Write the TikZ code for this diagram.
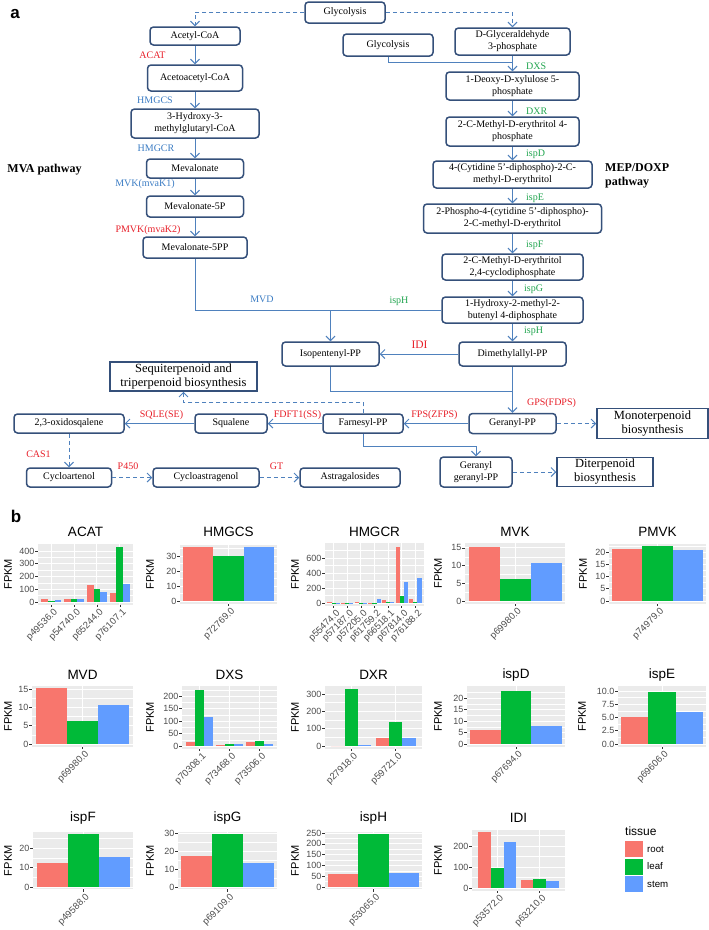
\documentclass[tikz,border=0pt]{standalone}
\usepackage{fontspec}
\setmainfont{Liberation Serif}
\newfontfamily\arialf{Liberation Sans}
\usetikzlibrary{arrows.meta}
\definecolor{boxc}{HTML}{35507A}
\definecolor{linec}{HTML}{4F81BD}
\definecolor{enzred}{HTML}{E8202A}
\definecolor{enzblue}{HTML}{3C7DC4}
\definecolor{enzgreen}{HTML}{22A650}
\definecolor{rootc}{HTML}{F8766D}
\definecolor{leafc}{HTML}{00BA38}
\definecolor{stemc}{HTML}{619CFF}
\definecolor{panelbg}{HTML}{EBEBEB}
\definecolor{axgray}{HTML}{4D4D4D}
\definecolor{tickc}{HTML}{333333}

\newcommand\mychart{%
  \pgfmathsetmacro\kU{\kF*(\kR-\kL)/(\kN-0.1)}%
  \pgfmathsetmacro\kC{(\kL+\kR)/2}%
  \pgfmathsetmacro\kB{\kZ+0.045*(\kZ-\kT)}%
  \fill[panelbg] (\kL,\kT) rectangle (\kR,\kB);
  \foreach \vv in \kMinor {\draw[gridminor] (\kL,{\kZ-\vv*\kK}) -- (\kR,{\kZ-\vv*\kK});}
  \foreach \vv/\vl [count=\j] in \kTicks {%
    \draw[gridmajor] (\kL,{\kZ-\vv*\kK}) -- (\kR,{\kZ-\vv*\kK});
    \draw[axtick] ({\kL-2.75},{\kZ-\vv*\kK}) -- (\kL,{\kZ-\vv*\kK});
    \node[ticklab, anchor=east] (\kName-y\j) at ({\kL-3.5},{\kZ-\vv*\kK}) {\vl};}
  \foreach \vg/\va/\vb/\vc [count=\i] in \kData {%
    \pgfmathsetmacro\gx{\kC+(\i-(\kN+1)/2)*\kU}
    \draw[gridmajor] (\gx,\kT) -- (\gx,\kB);
    \fill[rootc] ({\gx-0.45*\kU},\kZ) rectangle ({\gx-0.15*\kU},{\kZ-\va*\kK});
    \fill[leafc] ({\gx-0.15*\kU},\kZ) rectangle ({\gx+0.15*\kU},{\kZ-\vb*\kK});
    \fill[stemc] ({\gx+0.15*\kU},\kZ) rectangle ({\gx+0.45*\kU},{\kZ-\vc*\kK});
    \draw[axtick] (\gx,\kB) -- (\gx,{\kB+2.75});
    \node[xlab, anchor=north east] (\kName-x\i) at ({\gx+2},{\kB+3}) {\vg};}
  \node[ctitle] (\kName-title) at (\kC,\kTY) {\kTitle};
  \node[ylab] (\kName-ylab) at (\kFx,{(\kT+\kB)/2}) {FPKM};
}

\begin{document}
\begin{tikzpicture}[x=1pt,y=-1pt,
  met/.style={draw=boxc, line width=1.5pt, rounded corners=3.5pt, fill=white,
     font=\fontsize{10}{12}\selectfont, align=center, inner sep=0pt},
  bio/.style={draw=boxc, line width=1.5pt, fill=white,
     font=\fontsize{12.5}{14}\selectfont, align=center, inner sep=0pt},
  sz/.style 2 args={minimum width=#1pt, minimum height=#2pt},
  conn/.style={draw=linec, line width=1pt},
  arr/.style={conn, -{Straight Barb[length=4.5pt,width=9pt]}},
  darr/.style={arr, dash pattern=on 4pt off 3pt},
  enz/.style={font=\fontsize{10}{12}\selectfont, inner sep=0pt},
  ered/.style={enz, text=enzred},
  eblue/.style={enz, text=enzblue},
  egreen/.style={enz, text=enzgreen},
  pathlab/.style={font=\bfseries\fontsize{12}{14}\selectfont, inner sep=0pt, align=left},
  panlab/.style={font=\arialf\bfseries\fontsize{17}{17}\selectfont, inner sep=0pt},
  gridmajor/.style={draw=white, line width=0.9pt},
  gridminor/.style={draw=white, line width=0.45pt},
  axtick/.style={draw=tickc, line width=0.6pt},
  ticklab/.style={font=\arialf\fontsize{9}{10}\selectfont, text=axgray, inner sep=0pt},
  xlab/.style={font=\arialf\fontsize{9.5}{10}\selectfont, text=axgray, inner sep=0pt, rotate=45},
  ctitle/.style={font=\arialf\fontsize{13.5}{14}\selectfont, inner sep=0pt},
  ylab/.style={font=\arialf\fontsize{11}{12}\selectfont, inner sep=0pt, rotate=90},
  legt/.style={font=\arialf\fontsize{12}{13}\selectfont, inner sep=0pt, anchor=west},
  legl/.style={font=\arialf\fontsize{9.7}{11}\selectfont, inner sep=0pt, anchor=west}
]
\useasboundingbox (0,0) rectangle (709,930);
\fill[white] (0,0) rectangle (709,930);

% ---------------- panel a ----------------
\node[panlab] (la) at (15,14) {a};
\node[pathlab] (mvalab) at (44.5,170) {MVA pathway};
\node[pathlab, anchor=west] (meplab) at (605,176) {MEP/DOXP\\pathway};

\node[met, sz={80}{21}] (glyc1) at (345,12.5) {Glycolysis};
\node[met, sz={90}{18}] (acetyl) at (195,36) {Acetyl-CoA};
\node[met, sz={95}{26}] (acac) at (195,78) {Acetoacetyl-CoA};
\node[met, sz={128}{29}] (hmg) at (195,123.5) {3-Hydroxy-3-\\methylglutaryl-CoA};
\node[met, sz={97}{19}] (mev) at (195,168.5) {Mevalonate};
\node[met, sz={97}{21}] (mev5p) at (195,206.5) {Mevalonate-5P};
\node[met, sz={104}{21}] (mev5pp) at (195,247.5) {Mevalonate-5PP};

\node[met, sz={90}{22}] (glyc2) at (388,45) {Glycolysis};
\node[met, sz={115}{27}] (gap) at (512.5,41.5) {D-Glyceraldehyde\\3-phosphate};
\node[met, sz={133}{28}] (dxp) at (512.5,86) {1-Deoxy-D-xylulose 5-\\phosphate};
\node[met, sz={133}{29}] (mep) at (512.5,131.5) {2-C-Methyl-D-erythritol 4-\\phosphate};
\node[met, sz={159}{27}] (cdpme) at (512.5,174.5) {4-(Cytidine 5'-diphospho)-2-C-\\methyl-D-erythritol};
\node[met, sz={178}{29}] (cdpmep) at (512.5,218.5) {2-Phospho-4-(cytidine 5'-diphospho)-\\2-C-methyl-D-erythritol};
\node[met, sz={141}{26}] (mecpp) at (512.5,267) {2-C-Methyl-D-erythritol\\2,4-cyclodiphosphate};
\node[met, sz={141}{26}] (hmbpp) at (512.5,310) {1-Hydroxy-2-methyl-2-\\butenyl 4-diphosphate};
\node[met, sz={107}{24}] (dmapp) at (512.5,354) {Dimethylallyl-PP};
\node[met, sz={97}{24}] (ipp) at (330.5,354) {Isopentenyl-PP};
\node[met, sz={87}{20}] (gpp) at (512.5,423.5) {Geranyl-PP};
\node[met, sz={80}{19}] (fpp) at (363,423.5) {Farnesyl-PP};
\node[met, sz={72}{19}] (sq) at (231,423.5) {Squalene};
\node[met, sz={110}{19}] (oxs) at (69,423.5) {2,3-oxidosqalene};
\node[bio, sz={147}{29}] (seq) at (183.5,376.5) {Sequiterpenoid and\\triperpenoid biosynthesis};
\node[bio, sz={111}{30}] (mono) at (652.5,423.5) {Monoterpenoid\\biosynthesis};
\node[met, sz={72}{30}] (ggpp) at (476,472) {Geranyl\\geranyl-PP};
\node[bio, sz={96}{29}] (diterp) at (605,472) {Diterpenoid\\biosynthesis};
\node[met, sz={85}{19}] (cyart) at (69,477.5) {Cycloartenol};
\node[met, sz={106}{19}] (cyas) at (206,477.5) {Cycloastragenol};
\node[met, sz={100}{19}] (astr) at (350,477.5) {Astragalosides};

% connectors
\draw[darr] (glyc1.west) -| (acetyl.north);
\draw[darr] (glyc1.east) -| (gap.north);
\draw[arr] (acetyl.south) -- (acac.north);
\draw[arr] (acac.south) -- (hmg.north);
\draw[arr] (hmg.south) -- (mev.north);
\draw[arr] (mev.south) -- (mev5p.north);
\draw[arr] (mev5p.south) -- (mev5pp.north);
\coordinate (j1) at (512.5,62);
\draw[conn] (glyc2.south) |- (j1);
\draw[arr] (gap.south) -- (dxp.north);
\draw[arr] (dxp.south) -- (mep.north);
\draw[arr] (mep.south) -- (cdpme.north);
\draw[arr] (cdpme.south) -- (cdpmep.north);
\draw[arr] (cdpmep.south) -- (mecpp.north);
\draw[arr] (mecpp.south) -- (hmbpp.north);
\draw[arr] (hmbpp.south) -- (dmapp.north);
\coordinate (jm) at (330.5,310);
\draw[conn] (mev5pp.south) |- (jm);
\draw[conn] (hmbpp.west) -- (jm);
\draw[arr] (jm) -- (ipp.north);
\draw[arr] (dmapp.west) -- (ipp.east);
\draw[arr] (dmapp.south) -- (gpp.north);
\coordinate (j2) at (512.5,391);
\draw[conn] (ipp.south) |- (j2);
\draw[arr] (gpp.west) -- (fpp.east);
\draw[darr] (gpp.east) -- (mono.west);
\draw[arr] (fpp.west) -- (sq.east);
\draw[arr] (sq.west) -- (oxs.east);
\coordinate (j3) at (363,402);
\draw[darr] (fpp.north) -- (j3) -| (seq.south);
\coordinate (j4) at (363,446);
\draw[arr] (fpp.south) -- (j4) -| (ggpp.north);
\draw[darr] (ggpp.east) -- (diterp.west);
\draw[darr] (oxs.south) -- (cyart.north);
\draw[darr] (cyart.east) -- (cyas.west);
\draw[darr] (cyas.east) -- (astr.west);

% enzyme labels
\node[ered] (eACAT) at (152.5,55) {ACAT};
\node[eblue] (eHMGCS) at (155,100) {HMGCS};
\node[eblue] (eHMGCR) at (156,148) {HMGCR};
\node[eblue] (eMVK) at (145,184) {MVK(mvaK1)};
\node[ered] (ePMVK) at (148,230) {PMVK(mvaK2)};
\node[eblue] (eMVD) at (262,299) {MVD};
\node[egreen] (eispH1) at (399,301) {ispH};
\node[egreen, anchor=west] (eDXS) at (526,66) {DXS};
\node[egreen, anchor=west] (eDXR) at (526,111) {DXR};
\node[egreen, anchor=west] (eispD) at (526,154) {ispD};
\node[egreen, anchor=west] (eispE) at (526,198) {ispE};
\node[egreen, anchor=west] (eispF) at (526,245) {ispF};
\node[egreen, anchor=west] (eispG) at (524,289) {ispG};
\node[egreen, anchor=west] (eispH2) at (524,331) {ispH};
\node[ered, font=\fontsize{11.5}{13}\selectfont] (eIDI) at (419.5,345) {IDI};
\node[ered] (eGPS) at (551.5,403) {GPS(FDPS)};
\node[ered] (eFPS) at (434.5,415) {FPS(ZFPS)};
\node[ered] (eFDFT) at (297.5,415) {FDFT1(SS)};
\node[ered] (eSQLE) at (161.5,415) {SQLE(SE)};
\node[ered] (eCAS) at (38.5,454) {CAS1};
\node[ered] (eP450) at (128,466) {P450};
\node[ered] (eGT) at (276.5,466) {GT};

% ---------------- panel b ----------------
\node[panlab] (lb) at (16,516) {b};

% ACAT
\def\kName{ACAT}\def\kTitle{ACAT}\def\kL{38}\def\kR{133}\def\kT{544}\def\kZ{602}\def\kK{0.1275}
\def\kN{4}\def\kF{0.94}\def\kTY{532}\def\kFx{8}
\def\kTicks{0/0,100/100,200/200,300/300,400/400}\def\kMinor{50,150,250,350}
\def\kData{p49536.0/25/8/18,p54740.0/25/25/25,p65244.0/130/100/75,p76107.1/70/430/140}
\mychart
% HMGCS
\def\kName{HMGCS}\def\kTitle{HMGCS}\def\kL{180}\def\kR{277}\def\kT{545}\def\kZ{601}\def\kK{1.5}
\def\kN{1}\def\kF{0.93}\def\kTY{532}\def\kFx{150}
\def\kTicks{0/0,10/10,20/20,30/30}\def\kMinor{5,15,25,35}
\def\kData{p72769.0/36.2/30/36.2}
\mychart
% HMGCR
\def\kName{HMGCR}\def\kTitle{HMGCR}\def\kL{325}\def\kR{424}\def\kT{543}\def\kZ{603}\def\kK{0.075}
\def\kN{7}\def\kF{0.95}\def\kTY{532}\def\kFx{295}
\def\kTicks{0/0,200/200,400/400,600/600}\def\kMinor{100,300,500,700}
\def\kData{p55474.0/20/4/6,p57187.0/5/3/4,p57205.0/18/3/5,p61759.2/3/3/50,p66518.1/45/20/20,p67814.0/750/88/282,p76188.2/50/20/338}
\mychart
% MVK
\def\kName{MVK}\def\kTitle{MVK}\def\kL{465}\def\kR{565}\def\kT{543}\def\kZ{601}\def\kK{3.54}
\def\kN{1}\def\kF{0.93}\def\kTY{532}\def\kFx{438}
\def\kTicks{0/0,5/5,10/10,15/15}\def\kMinor{2.5,7.5,12.5}
\def\kData{p69980.0/15.3/6.3/10.7}
\mychart
% PMVK
\def\kName{PMVK}\def\kTitle{PMVK}\def\kL{609}\def\kR{706}\def\kT{544}\def\kZ{601}\def\kK{2.45}
\def\kN{1}\def\kF{0.93}\def\kTY{532}\def\kFx{583}
\def\kTicks{0/0,5/5,10/10,15/15,20/20}\def\kMinor{2.5,7.5,12.5,17.5,22.5}
\def\kData{p74979.0/21.2/22.3/20.8}
\mychart
% MVD
\def\kName{MVD}\def\kTitle{MVD}\def\kL{32}\def\kR{133}\def\kT{686}\def\kZ{744}\def\kK{3.67}
\def\kN{1}\def\kF{0.93}\def\kTY{675}\def\kFx{8}
\def\kTicks{0/0,5/5,10/10,15/15}\def\kMinor{2.5,7.5,12.5}
\def\kData{p69980.0/15.3/6.3/10.7}
\mychart
% DXS
\def\kName{DXS}\def\kTitle{DXS}\def\kL{182}\def\kR{277}\def\kT{686}\def\kZ{746}\def\kK{0.25}
\def\kN{3}\def\kF{0.91}\def\kTY{675}\def\kFx{150}
\def\kTicks{0/0,50/50,100/100,150/150,200/200}\def\kMinor{25,75,125,175,225}
\def\kData{p70308.1/18/226/116,p73468.0/5/8/10,p73506.0/18/20/10}
\mychart
% DXR
\def\kName{DXR}\def\kTitle{DXR}\def\kL{325}\def\kR{422}\def\kT{686}\def\kZ{746}\def\kK{0.1733}
\def\kN{2}\def\kF{0.87}\def\kTY{675}\def\kFx{295}
\def\kTicks{0/0,100/100,200/200,300/300}\def\kMinor{50,150,250}
\def\kData{p27918.0/0/330/5,p59721.0/48/140/48}
\mychart
% ispD
\def\kName{ispD}\def\kTitle{ispD}\def\kL{467}\def\kR{565}\def\kT{686}\def\kZ{744}\def\kK{2.3}
\def\kN{1}\def\kF{0.93}\def\kTY{675}\def\kFx{438}
\def\kTicks{0/0,5/5,10/10,15/15,20/20}\def\kMinor{2.5,7.5,12.5,17.5,22.5}
\def\kData{p67694.0/6.1/23/7.8}
\mychart
% ispE
\def\kName{ispE}\def\kTitle{ispE}\def\kL{618}\def\kR{706}\def\kT{686}\def\kZ{744}\def\kK{5.3}
\def\kN{1}\def\kF{0.93}\def\kTY{675}\def\kFx{582}
\def\kTicks{0/0.0,2.5/2.5,5/5.0,7.5/7.5,10/10.0}\def\kMinor{1.25,3.75,6.25,8.75}
\def\kData{p69606.0/5.15/9.9/6.1}
\mychart
% ispF
\def\kName{ispF}\def\kTitle{ispF}\def\kL{33}\def\kR{133}\def\kT{832}\def\kZ{887}\def\kK{1.95}
\def\kN{1}\def\kF{0.93}\def\kTY{818}\def\kFx{8}
\def\kTicks{0/0,10/10,20/20}\def\kMinor{5,15,25}
\def\kData{p49588.0/12.1/27.2/15.5}
\mychart
% ispG
\def\kName{ispG}\def\kTitle{ispG}\def\kL{178}\def\kR{277}\def\kT{832}\def\kZ{887}\def\kK{1.8}
\def\kN{1}\def\kF{0.93}\def\kTY{818}\def\kFx{150}
\def\kTicks{0/0,10/10,20/20,30/30}\def\kMinor{5,15,25}
\def\kData{p69109.0/17.2/29.4/13.5}
\mychart
% ispH
\def\kName{ispH}\def\kTitle{ispH}\def\kL{325}\def\kR{422}\def\kT{832}\def\kZ{887}\def\kK{0.216}
\def\kN{1}\def\kF{0.93}\def\kTY{818}\def\kFx{295}
\def\kTicks{0/0,50/50,100/100,150/150,200/200,250/250}\def\kMinor{25,75,125,175,225}
\def\kData{p53065.0/60/245/66}
\mychart
% IDI
\def\kName{IDI}\def\kTitle{IDI}\def\kL{472}\def\kR{565}\def\kT{830}\def\kZ{888}\def\kK{0.21}
\def\kN{2}\def\kF{0.87}\def\kTY{818}\def\kFx{438}
\def\kTicks{0/0,100/100,200/200}\def\kMinor{50,150,250}
\def\kData{p53572.0/265/97/218,p63210.0/37/44/32}
\mychart

% legend
\node[legt] (legtitle) at (625,831) {tissue};
\fill[rootc] (625,841) rectangle (643,857);
\fill[leafc] (625,858.5) rectangle (643,874.5);
\fill[stemc] (625,876) rectangle (643,892);
\node[legl] (legroot) at (647,849) {root};
\node[legl] (legleaf) at (647,866.5) {leaf};
\node[legl] (legstem) at (647,884) {stem};
\end{tikzpicture}
\end{document}
